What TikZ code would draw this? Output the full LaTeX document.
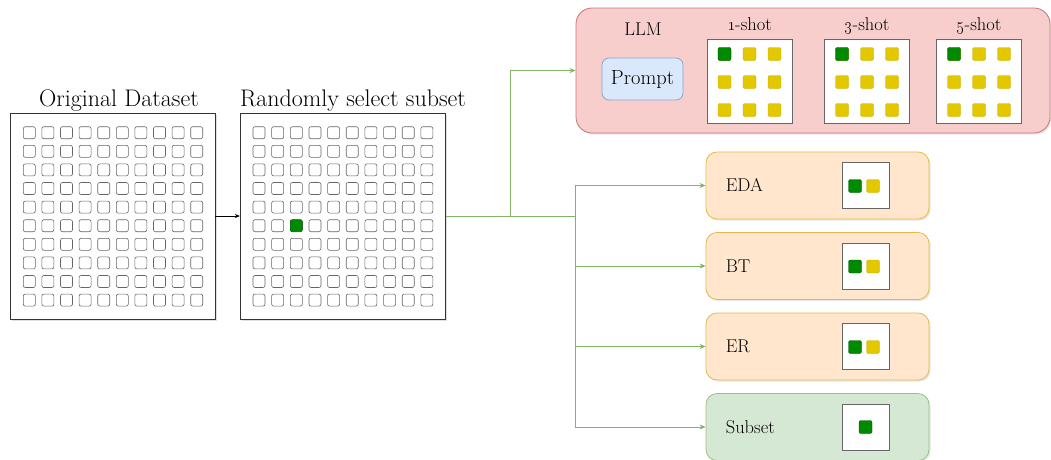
\documentclass[tikz,border=0pt]{standalone}
\usetikzlibrary{shadows,arrows.meta}
\definecolor{llmfill}{HTML}{F8CECC}\definecolor{llmdraw}{HTML}{B85450}
\definecolor{pfill}{HTML}{DAE8FC}\definecolor{pdraw}{HTML}{6C8EBF}
\definecolor{ofill}{HTML}{FFE6CC}\definecolor{odraw}{HTML}{D79B00}
\definecolor{gfill}{HTML}{D5E8D4}\definecolor{gdraw}{HTML}{82B366}
\definecolor{sgreen}{HTML}{008A00}\definecolor{sgreend}{HTML}{005700}
\definecolor{syellow}{HTML}{E3C800}\definecolor{syellowd}{HTML}{C8AE00}
\definecolor{cellgray}{HTML}{666666}
\begin{document}
\begin{tikzpicture}[x=1pt,y=-1pt,
  databox/.style={draw=black!80,fill=white,line width=0.8pt,minimum width=205pt,minimum height=206pt,inner sep=0pt,drop shadow={opacity=0.25,shadow xshift=1.5pt,shadow yshift=-1.5pt}},
  title/.style={font=\fontsize{24}{26}\selectfont,inner sep=0pt,anchor=base},
  cell/.style={draw=cellgray,line width=0.6pt,rounded corners=2pt},
  gsq/.style={fill=sgreen,draw=sgreend,line width=0.4pt,rounded corners=2pt},
  ysq/.style={fill=syellow,draw=syellowd,line width=0.4pt,rounded corners=2pt},
  shotbox/.style={draw=cellgray,fill=white,line width=0.8pt,minimum width=85pt,minimum height=84pt,inner sep=0pt},
  methbox/.style={draw=odraw!70,fill=ofill,line width=0.8pt,rounded corners=11pt,minimum width=223pt,minimum height=67pt,inner sep=0pt,drop shadow={opacity=0.2,shadow xshift=1.5pt,shadow yshift=-1.5pt}},
  smallbox/.style={draw=cellgray,fill=white,line width=0.8pt,minimum width=47pt,minimum height=46pt,inner sep=0pt},
  lbl/.style={font=\fontsize{18.5}{20}\selectfont,inner sep=0pt,anchor=base},
  grn/.style={draw=gdraw,line width=0.8pt},
  grnarrow/.style={draw=gdraw,line width=0.8pt,-{Stealth[length=6pt,width=5pt]}},
  blkarrow/.style={draw=black,line width=0.6pt,-{Stealth[length=5pt,width=4pt]}}
]
\useasboundingbox (0,0) rectangle (1051,459);

% datasets
\node[databox] (orig) at (112.5,216) {};
\node[title] (origt) at (119,106.5) {Original Dataset};
\node[databox] (sel) at (342.75,216) {};
\node[title] (selt) at (353,106.5) {Randomly select subset};
\foreach \i in {0,...,9}{
  \foreach \j in {0,...,9}{
    \draw[cell] ({29.3+18.6*\i-6},{132.7+18.6*\j-6}) rectangle ++(12,12);
    \draw[cell] ({259+18.65*\i-6},{132.7+18.6*\j-6}) rectangle ++(12,12);
  }
}
\draw[gsq] ({259+18.65*2-6},{132.7+18.6*5-6}) rectangle ++(12,12);

% LLM box
\node[draw=llmdraw!80,fill=llmfill,line width=0.8pt,rounded corners=16pt,minimum width=474pt,minimum height=125pt,inner sep=0pt,drop shadow={opacity=0.2,shadow xshift=1.5pt,shadow yshift=-1.5pt}] (llm) at (813,70.5) {};
\node[lbl] (llmt) at (643,35) {LLM};
\node[draw=pdraw!80,fill=pfill,line width=0.8pt,rounded corners=7pt,minimum width=81pt,minimum height=42pt,inner sep=0pt,font=\fontsize{20.5}{22}\selectfont] (prompt) at (642.5,79) {Prompt};
\foreach \nm/\cx/\t in {one/749.5/1,three/867/3,five/979/5}{
  \node[shotbox] (\nm) at (\cx,81) {};
  \node[lbl] (\nm t) at (\cx,30) {\oldstylenums{\t}-shot};
  \foreach \dx in {-25,0,25}{
    \foreach \dy in {-27,1,29}{
      \draw[ysq] ({\cx+\dx-6.5},{81+\dy-6.5}) rectangle ++(13,13);
    }
  }
  \draw[gsq] ({\cx-25-6.5},{81-27-6.5}) rectangle ++(13,13);
}

% method boxes
\node[methbox] (eda) at (817.5,185.5) {};
\node[methbox] (bt) at (817.5,266) {};
\node[methbox] (er) at (817.5,346.5) {};
\node[methbox,draw=gdraw!80,fill=gfill] (sub) at (817.5,427) {};
\foreach \nm/\tx in {eda/EDA,bt/BT,er/ER,sub/Subset}{
  \node[lbl,anchor=base west] (\nm t) at ([xshift=20pt,yshift=-6pt]\nm.west) {\tx};
  \node[smallbox] (\nm s) at ([xshift=48pt]\nm.center) {};
}
\foreach \nm in {eda,bt,er}{
  \draw[gsq] ([xshift=-17pt,yshift=6pt]\nm s.center) rectangle ++(13,13);
  \draw[ysq] ([xshift=1pt,yshift=6pt]\nm s.center) rectangle ++(13,13);
}
\draw[gsq] ([xshift=-6.5pt,yshift=6.5pt]subs.center) rectangle ++(13,13);

% connectors
\draw[blkarrow] (orig.east) -- (sel.west);
\coordinate (j1) at (510,216);
\coordinate (j2) at (575.5,216);
\draw[grn] (sel.east) -- (j2);
\draw[grnarrow] (j1) |- (llm.west);
\draw[grnarrow] (j2) |- (eda.west);
\draw[grnarrow] (j2) |- (bt.west);
\draw[grnarrow] (j2) |- (er.west);
\draw[grnarrow] (j2) |- (sub.west);
\end{tikzpicture}
\end{document}
